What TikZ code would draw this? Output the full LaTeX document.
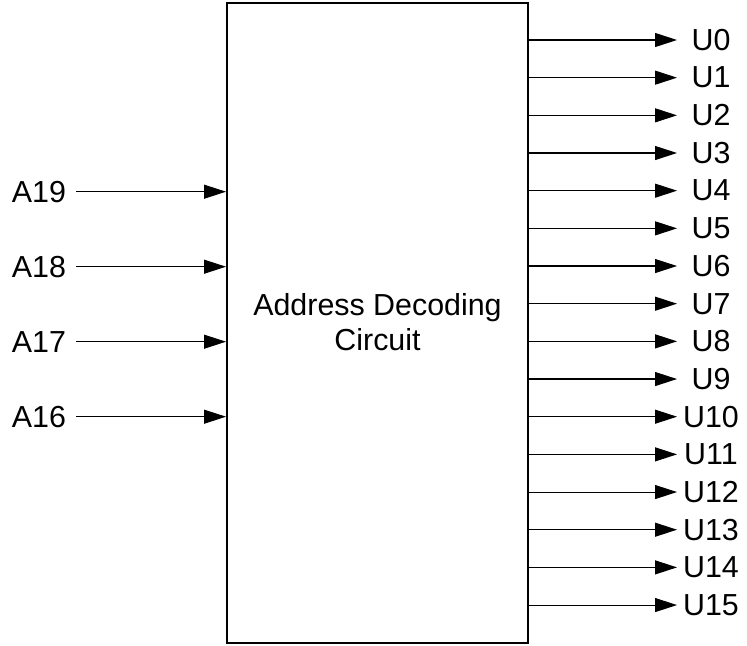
\documentclass[tikz,border=0pt]{standalone}
\usepackage{fontspec}
\setmainfont{Liberation Sans}
\usetikzlibrary{arrows.meta}
\begin{document}
\begin{tikzpicture}[x=0.75pt,y=-0.75pt,
  lbl/.style={font=\fontsize{22.8}{26.5}\selectfont, inner sep=0pt},
  sig/.style={line width=0.8pt, -{Triangle[length=16.5pt,width=10.5pt]}}]
\useasboundingbox (0,0) rectangle (747,646);
\node[draw, line width=1.5pt, minimum width=301*0.75pt, minimum height=640*0.75pt, inner sep=0pt] (box) at (377.5,323) {};
\node[lbl, align=center] (t) at (377.5,322) {Address Decoding\\Circuit};
\foreach \n [count=\i from 0] in {19,18,17,16} {
  \pgfmathsetmacro{\yy}{191.7+75*\i}
  \node[lbl] (a\n) at (39,\yy) {A\n};
  \coordinate (s\n) at (76,\yy);
  \coordinate (e\n) at (box.west |- s\n);
  \draw[sig] (s\n) -- (e\n);
}
\foreach \i in {0,...,15} {
  \pgfmathsetmacro{\yy}{40+37.67*\i}
  \node[lbl] (u\i) at (711,\yy) {U\i};
  \coordinate (f\i) at (677,\yy);
  \coordinate (b\i) at (box.east |- f\i);
  \draw[sig] (b\i) -- (f\i);
}
\end{tikzpicture}
\end{document}
